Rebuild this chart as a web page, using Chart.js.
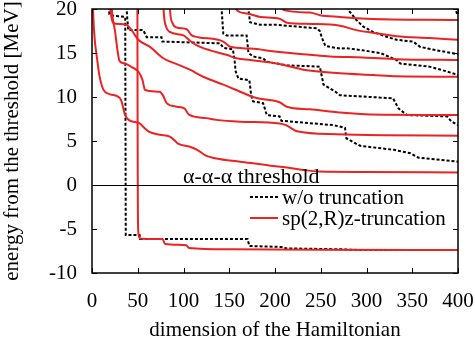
<!DOCTYPE html>
<html>
<head>
<meta charset="utf-8">
<script src="https://cdn.jsdelivr.net/npm/chart.js@4"></script>
<style>
  html, body { margin: 0; padding: 0; background: #fff; }
</style>
</head>
<body>
<canvas id="chart" width="475" height="344"></canvas>
<script>
// axis ticks
const xTicks = [0, 50, 100, 150, 200, 250, 300, 350, 400];
const yTicks = [-10, -5, 0, 5, 10, 15, 20];

// w/o truncation, [dimension, energy in MeV]
const full1 = [[17.5,22],[19,19.4],[21,19.25],[36.3,19.1],[36.9,-5.68],[52,-5.68],[52.6,-6.14],[170,-6.14],[172,-6.93],[209,-7.05],[212,-7.2],[270,-7.3],[290,-7.38],[400,-7.4]];
const full2 = [[37.2,22],[38.3,19.2],[39.7,17.6],[56,17.6],[59.8,16.8],[76,16.8],[77,16.3],[140,16.1],[143.5,15.6],[154,15.4],[156,14.0],[157,12.9],[160,12.1],[172,11.9],[174,10.2],[176,9.5],[187,9.3],[191,7.95],[205,7.8],[207,7.3],[264,6.8],[276.5,6.5],[278,5.3],[293,4.45],[330,4.0],[348,3.6],[357,3.1],[400,2.65]];
const full3 = [[141,22],[141.7,19.9],[143.5,17.2],[147,17.0],[169,17.0],[171,15.0],[176,14.6],[187,14.4],[191,14.0],[213,13.6],[249,13.45],[253,11.4],[266,10.6],[271,10.2],[329,9.85],[335,8.7],[344,7.95],[388,7.8],[393,7.2],[400,6.8]];
const full4 = [[170,22],[171,19.9],[172.7,18.5],[183.6,18.2],[202,18.2],[246,17.8],[249,17.5],[251,16.8],[255,15.8],[271,15.5],[278,15.55],[296,15.3],[315,15.0],[333,14.2],[337,13.8],[369,13.45],[388,12.9],[400,12.5]];
const full5 = [[279,22],[280,19.9],[289,18.75],[296.5,18.0],[307,17.4],[322,16.85],[333,16.5],[351,16.3],[358.5,15.7],[377,15.3],[393,15.0],[400,14.85]];
const full6 = [[395,22],[397,20],[400,19.2]];

// sp(2,R)z-truncation
const trunc1 = [[49.6,22],[49.8,8],[50.1,-2],[50.6,-5.3],[52,-6.0],[55,-6.12],[77,-6.15],[80,-6.7],[103,-6.85],[106,-7.15],[150,-7.3],[250,-7.37],[400,-7.4]];
const trunc2 = [[0.5,22],[1.5,19],[3,16.5],[5,14.8],[8,12.5],[11,11.2],[14,10.6],[20,10.3],[29,10.0],[32,9.6],[34,8.8],[36,8.0],[40,7.4],[52,7.0],[57,6.5],[62,6.06],[74,5.7],[85,5.5],[90,5.1],[94,4.7],[107,4.35],[115,4.0],[123.5,3.4],[136,3.0],[162,2.65],[195,2.2],[213,2.0],[231,1.7],[249,1.52],[300,1.47],[400,1.42]];
const trunc3 = [[20.5,22],[22,19.5],[25,17.6],[28,15.2],[30,14.1],[36,13.8],[45,13.3],[50.6,12.9],[55,12.0],[58,10.8],[74,10.6],[78,10.1],[81.6,9.3],[92.6,8.9],[101,8.7],[106,8.0],[125,7.6],[136,7.4],[162,7.2],[205,7.0],[212,6.8],[218,6.44],[224,6.1],[267,5.76],[320,5.65],[400,5.6]];
const trunc4 = [[18.5,22],[20.5,19.6],[23.3,18.4],[30,18.3],[37.9,18.2],[44,17.5],[50.6,16.5],[63.4,15.7],[78,14.4],[96,13.6],[107,13.1],[121.6,12.3],[143.5,11.4],[162,10.6],[176,10.0],[184,9.8],[205,9.4],[212.8,8.9],[238,8.6],[274.6,8.2],[304,8.0],[400,7.95]];
const trunc5 = [[77.5,22],[78.5,19.5],[80.9,18.0],[85,17.4],[100,17.0],[107,16.4],[114,15.9],[129,15.3],[147,14.8],[158,14.4],[173,14.2],[202,13.8],[215,13.5],[231,13.1],[271,12.7],[307,12.5],[333,12.35],[400,12.3]];
const trunc6 = [[84.5,22],[85.5,19.6],[88,18.4],[92.6,17.9],[103.5,17.7],[109,17.0],[116,16.8],[143.5,16.3],[151,15.7],[173,15.5],[202,15.15],[238,14.8],[260,14.6],[296,14.5],[333,14.3],[400,14.2]];
const trunc7 = [[155,22],[158,19.9],[169,19.5],[184,19.1],[205,18.9],[213,18.45],[240,18.3],[271,18.1],[289,17.6],[307,17.3],[333,16.9],[369,16.7],[400,16.5]];
const trunc8 = [[204,22],[209,19.9],[238,19.6],[249,19.3],[271,19.1],[300,18.9],[400,18.75]];

const legendLabels = ['w/o truncation', 'sp(2,R)z-truncation'];
const thresholdLabel = 'α-α-α threshold';

const fullCurves = [full1, full2, full3, full4, full5, full6];
const truncCurves = [trunc1, trunc2, trunc3, trunc4, trunc5, trunc6, trunc7, trunc8];

const RED = 'rgb(235,35,35)';
const SERIF = '"Liberation Serif", "DejaVu Serif", serif';
const FONT = { family: SERIF, size: 21 };

const toXY = pts => pts.map(p => ({ x: p[0], y: p[1] }));

const datasets = [];
truncCurves.forEach(c => datasets.push({
  data: toXY(c),
  borderColor: RED,
  borderWidth: 2,
  pointRadius: 0,
  cubicInterpolationMode: 'monotone',
  order: 0
}));
fullCurves.forEach(c => datasets.push({
  data: toXY(c),
  borderColor: '#000',
  borderWidth: 2,
  borderDash: [3, 2],
  pointRadius: 0,
  tension: 0,
  order: 1
}));

// keep the plot box where the layout padding puts it
const noPad = s => {
  s.paddingTop = 0; s.paddingBottom = 0; s.paddingLeft = 0; s.paddingRight = 0;
};

// frame, inner ticks, threshold line, labels and key
const framePlugin = {
  id: 'frame',
  afterDatasetsDraw(chart) {
    const { ctx, chartArea: a, scales: { x, y } } = chart;
    ctx.save();
    ctx.strokeStyle = '#000';
    ctx.setLineDash([]);

    const y0 = y.getPixelForValue(0);
    const y0c = Math.round(y0) + 0.5;
    ctx.lineWidth = 1;
    ctx.beginPath();
    ctx.moveTo(a.left, y0c);
    ctx.lineTo(a.right, y0c);
    ctx.stroke();

    ctx.lineWidth = 1.5;
    ctx.strokeRect(a.left, a.top, a.right - a.left, a.bottom - a.top);
    ctx.lineWidth = 1;
    ctx.beginPath();
    xTicks.forEach(v => {
      const px = Math.round(x.getPixelForValue(v)) + 0.5;
      ctx.moveTo(px, a.bottom); ctx.lineTo(px, a.bottom - 5);
      ctx.moveTo(px, a.top); ctx.lineTo(px, a.top + 5);
    });
    yTicks.forEach(v => {
      const py = Math.round(y.getPixelForValue(v)) + 0.5;
      ctx.moveTo(a.left, py); ctx.lineTo(a.left + 5, py);
      ctx.moveTo(a.right, py); ctx.lineTo(a.right - 5, py);
    });
    ctx.stroke();

    ctx.fillStyle = '#000';
    ctx.font = '22px ' + SERIF;
    ctx.textAlign = 'left';
    ctx.textBaseline = 'alphabetic';
    ctx.fillText(thresholdLabel, a.left + 91, y0 - 2);

    // key
    ctx.font = FONT.size + 'px ' + SERIF;
    ctx.textBaseline = 'middle';
    const kx = a.left + 158, tx = a.left + 190;
    const rows = [a.top + 188, a.top + 209];
    ctx.lineWidth = 2;
    ctx.strokeStyle = '#000';
    ctx.setLineDash([3, 2]);
    ctx.beginPath(); ctx.moveTo(kx, rows[0]); ctx.lineTo(kx + 28, rows[0]); ctx.stroke();
    ctx.strokeStyle = RED;
    ctx.setLineDash([]);
    ctx.beginPath(); ctx.moveTo(kx, rows[1]); ctx.lineTo(kx + 28, rows[1]); ctx.stroke();
    ctx.fillText(legendLabels[0], tx, rows[0] + 1);
    ctx.fillText(legendLabels[1], tx, rows[1] + 1);
    ctx.restore();
  }
};

new Chart(document.getElementById('chart'), {
  type: 'line',
  data: { datasets },
  options: {
    responsive: false,
    animation: false,
    devicePixelRatio: 1,
    layout: { padding: { top: 9, right: 17, left: 0, bottom: 0 } },
    plugins: { legend: { display: false }, tooltip: { enabled: false } },
    scales: {
      x: {
        type: 'linear',
        min: 0,
        max: 400,
        afterBuildTicks: s => { s.ticks = xTicks.map(v => ({ value: v })); },
        afterFit: s => { s.height = 71; noPad(s); },
        grid: { display: false },
        border: { display: false },
        ticks: { color: '#000', font: FONT, padding: 8, maxRotation: 0, autoSkip: false },
        title: { display: true, text: 'dimension of the Hamiltonian', color: '#000', font: FONT, padding: { top: 0, bottom: 1 } }
      },
      y: {
        min: -10,
        max: 20,
        afterBuildTicks: s => { s.ticks = yTicks.map(v => ({ value: v })); },
        afterFit: s => { s.width = 92; noPad(s); },
        grid: { display: false },
        border: { display: false },
        ticks: { color: '#000', font: FONT, padding: 7 },
        title: { display: true, text: 'energy from the threshold [MeV]', color: '#000', font: FONT, padding: { top: 0, bottom: 0 } }
      }
    }
  },
  plugins: [framePlugin]
});
</script>
</body>
</html>
